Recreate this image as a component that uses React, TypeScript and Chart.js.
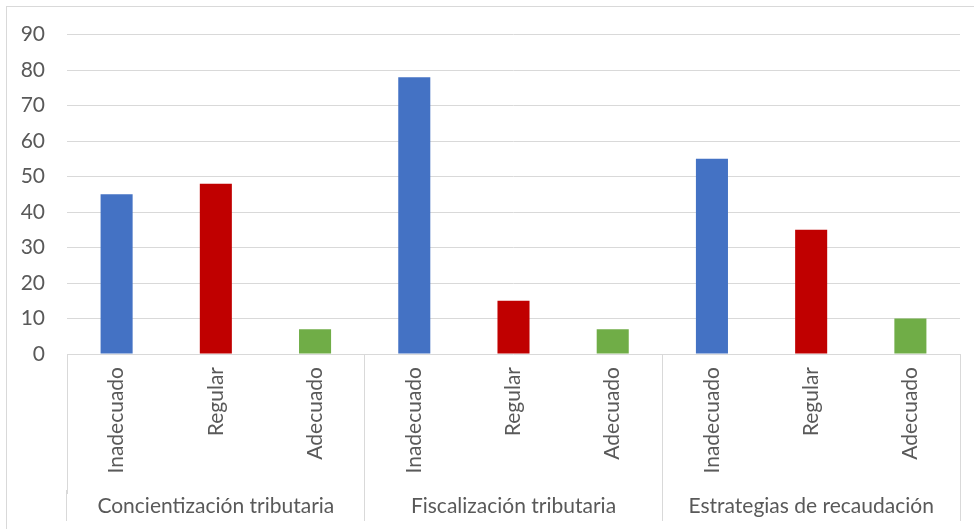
import React, { useEffect, useRef } from "react";
import { Chart, registerables } from "chart.js";

Chart.register(...registerables);

const groups = ["Concientización tributaria", "Fiscalización tributaria", "Estrategias de recaudación"];
const levels = ["Inadecuado", "Regular", "Adecuado"];
const values = [45, 48, 7, 78, 15, 7, 55, 35, 10];
const levelColors = ["#4472C4", "#C00000", "#70AD47"];
const yTicks = [0, 10, 20, 30, 40, 50, 60, 70, 80, 90];

const GRID = "#d9d9d9";
const TEXT = "#595959";
const FONT = "Lato";

export default function App() {
  const ref = useRef<HTMLCanvasElement>(null);

  useEffect(() => {
    if (!ref.current) return;
    const labels: string[] = [];
    const colors: string[] = [];
    groups.forEach(() => {
      levels.forEach((l, i) => {
        labels.push(l);
        colors.push(levelColors[i]);
      });
    });

    const chart = new Chart(ref.current, {
      type: "bar",
      data: {
        labels,
        datasets: [
          {
            data: values,
            backgroundColor: colors,
            borderWidth: 0,
            categoryPercentage: 1,
            barPercentage: 0.323,
            xAxisID: "x",
          },
        ],
      },
      options: {
        animation: false,
        responsive: false,
        maintainAspectRatio: false,
        events: [],
        layout: { padding: { left: 0, right: 14, top: 34, bottom: 8 } },
        plugins: { legend: { display: false }, tooltip: { enabled: false } },
        scales: {
          x: {
            type: "category",
            position: "bottom",
            weight: 0,
            offset: true,
            labels,
            border: { display: false },
            grid: {
              offset: true,
              drawOnChartArea: false,
              drawTicks: true,
              tickLength: 140,
              lineWidth: 1,
              color: (c: any) =>
                c.index === undefined || c.index % 3 === 0 ? GRID : "rgba(0,0,0,0)",
            },
            ticks: {
              autoSkip: false,
              minRotation: 90,
              maxRotation: 90,
              padding: -127,
              color: TEXT,
              font: { family: FONT, size: 21 },
            },
            afterFit: (s: any) => {
              s.height = 136;
            },
          },
          x2: {
            type: "category",
            position: "bottom",
            weight: 1,
            offset: true,
            labels: groups,
            border: { display: false },
            grid: {
              offset: true,
              drawOnChartArea: false,
              drawTicks: true,
              tickLength: 31,
              color: GRID,
            },
            ticks: {
              autoSkip: false,
              maxRotation: 0,
              minRotation: 0,
              padding: -27,
              color: TEXT,
              font: { family: FONT, size: 21 },
            },
            afterFit: (s: any) => {
              s.height = 31;
            },
          },
          y: {
            min: 0,
            max: 90,
            afterBuildTicks: (s: any) => {
              s.ticks = yTicks.map((v) => ({ value: v }));
            },
            border: { display: false },
            grid: { color: GRID, drawTicks: false, lineWidth: 1 },
            ticks: {
              padding: 22,
              color: TEXT,
              font: { family: FONT, size: 21 },
            },
            afterFit: (s: any) => {
              s.width = 67;
            },
          },
        },
      },
    });
    return () => chart.destroy();
  }, []);

  return (
    <div
      style={{
        position: "fixed",
        left: 0,
        top: 0,
        width: 974,
        height: 529,
        overflow: "hidden",
        background: "#fff",
      }}
    >
      <div
        style={{
          position: "absolute",
          left: 6,
          top: 6,
          width: 1000,
          height: 600,
          borderLeft: `1px solid ${GRID}`,
          borderTop: `1px solid ${GRID}`,
        }}
      />
      <canvas
        ref={ref}
        width={974}
        height={529}
        style={{ position: "absolute", left: 0, top: 0, width: 974, height: 529 }}
      />
    </div>
  );
}
